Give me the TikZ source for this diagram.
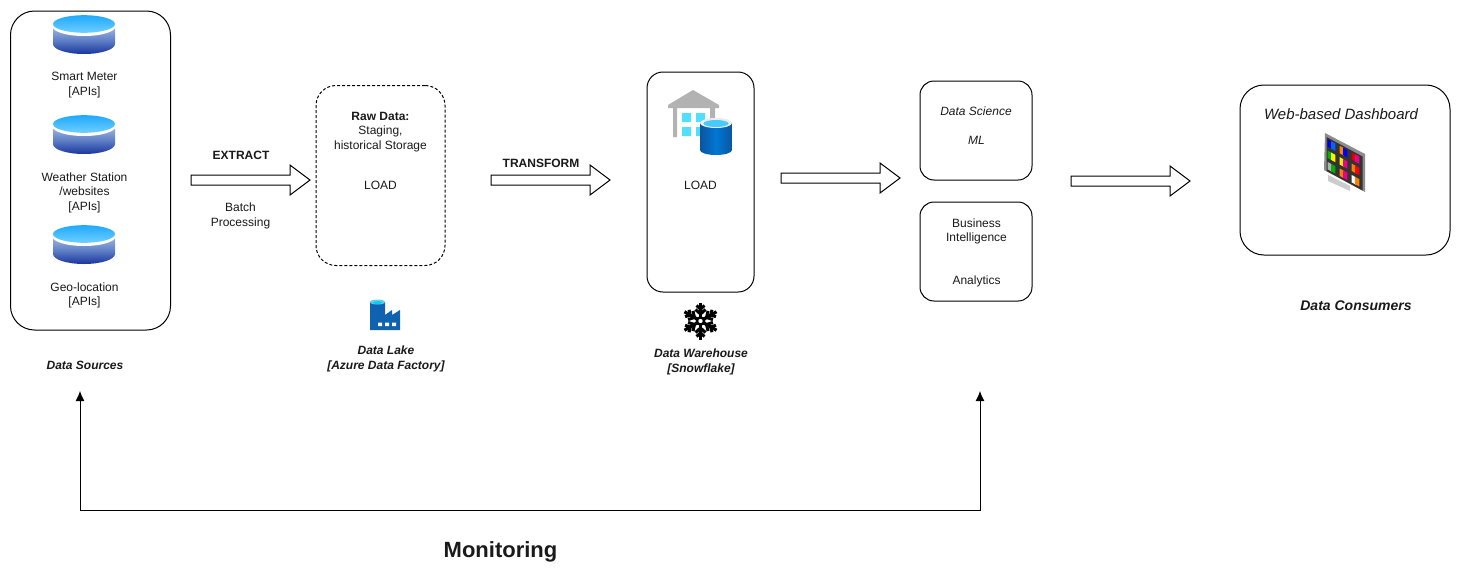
\documentclass[tikz,border=0pt]{standalone}
\usepackage{fontspec}
\setmainfont{Liberation Sans}
\usetikzlibrary{calc,arrows.meta}
\definecolor{txt}{HTML}{1A1A1A}
\definecolor{dbtop}{HTML}{1FA9FF}
\definecolor{dbbot}{HTML}{70CFFF}
\definecolor{bodytop}{HTML}{A9BCE6}
\definecolor{bodymid}{HTML}{6383C8}
\definecolor{bodybot}{HTML}{1A359E}
\definecolor{factoryblue}{HTML}{0F62B0}
\definecolor{whcyan}{HTML}{50DFFF}
\definecolor{whdark}{HTML}{0A559F}
\definecolor{whmid}{HTML}{0078D4}
\tikzset{
  x=1pt,y=-1pt,
  box/.style={draw=black,line width=1pt,rounded corners=#1,fill=white,inner sep=0pt},
  box/.default=20pt,
  lbl/.style={font=\fontsize{12}{14.4}\selectfont,text=txt,align=center,inner sep=0pt},
  lblbi/.style={lbl,font=\fontsize{12}{14.4}\selectfont\bfseries\itshape},
  lblb/.style={lbl,font=\fontsize{12}{14.4}\selectfont\bfseries},
  lbli/.style={lbl,font=\fontsize{12}{14.4}\selectfont\itshape},
  blockarrow/.style={draw=black,line width=1pt,fill=white,line join=miter},
  monitor/.style={draw=black,line width=1pt,-{Latex[length=10pt,width=9pt]},rounded corners=0pt},
}
\newcommand{\dbcyl}[2]{%
  \begin{scope}[shift={(#1,#2)}]
    \path[top color=bodytop,bottom color=bodybot,middle color=bodymid]
      (53,25) -- (53,44) arc[x radius=31,y radius=10,start angle=180,end angle=0] -- (115,25) -- cycle;
    \path[fill=white] (84,26.5) ellipse[x radius=31.5,y radius=9.5];
    \path[top color=dbtop,bottom color=dbbot] (84,24) ellipse[x radius=31,y radius=8.8];
  \end{scope}}
\newcommand{\blockarr}[2]{%
  \draw[blockarrow] ($(#1)+(0,-5)$) -- ($(#2)+(-20,-5)$) -- ($(#2)+(-20,-15)$) -- (#2)
     -- ($(#2)+(-20,15)$) -- ($(#2)+(-20,5)$) -- ($(#1)+(0,5)$) -- cycle;}
% tile patches on the monitor screen
\newcommand{\mpt}[2]{({1326.5+36*(#1)},{137+19.5*(#1)+34*(#2)})}
\newcommand{\patch}[4]{% col,row,colour,offset
  \fill[#3] \mpt{(#1+0.1+#4*0.28)/3}{(#2+0.15)/3} -- \mpt{(#1+0.45+#4*0.28)/3}{(#2+0.15)/3}
     -- \mpt{(#1+0.45+#4*0.28)/3}{(#2+0.8)/3} -- \mpt{(#1+0.1+#4*0.28)/3}{(#2+0.8)/3} -- cycle;}
\begin{document}
\begin{tikzpicture}
\useasboundingbox (0,0) rectangle (1461,581);
\fill[white] (0,0) rectangle (1461,581);

% containers
\node[box=24pt,minimum width=160pt,minimum height=319pt] (sources) at (90.5,170.5) {};
\node[box=20pt,minimum width=129pt,minimum height=180pt,dash pattern=on 3pt off 2pt] (lake) at (380.5,175.5) {};
\node[box=16pt,minimum width=107pt,minimum height=220pt] (dwh) at (700.5,182) {};
\node[box=14pt,minimum width=112pt,minimum height=99pt] (ds) at (976,130.5) {};
\node[box=14pt,minimum width=112pt,minimum height=99pt] (bi) at (976,251.5) {};
\node[box=24pt,minimum width=210pt,minimum height=170pt] (dash) at (1345,170) {};

% cylinders
\dbcyl{0}{0}
\dbcyl{0}{100}
\dbcyl{0}{210}

% source labels
\node[lbl] (smart) at (84.5,85) {Smart Meter\\{}[APIs]};
\node[lbl] (weather) at (84.5,192.5) {Weather Station\\/websites\\{}[APIs]};
\node[lbl] (geo) at (84.5,295.5) {Geo-location\\{}[APIs]};
\node[lblbi] (srclbl) at (85,365) {Data Sources};

% extract
\node[lblb] (extract) at (241,155) {EXTRACT};
\node[lbl] (batch) at (240.5,216) {Batch\\Processing};
\coordinate (a1s) at (191,180); \coordinate (a1e) at (310,180);
\blockarr{a1s}{a1e}

% lake
\node[lbl] (raw) at (380.5,132) {\textbf{Raw Data:}\\Staging,\\historical Storage};
\node[lbl] (load1) at (380.5,185) {LOAD};
\node[lblbi] (lakelbl) at (386,359) {Data Lake\\{}[Azure Data Factory]};

% transform
\node[lblb] (transform) at (541,163) {TRANSFORM};
\coordinate (a2s) at (491,180); \coordinate (a2e) at (610,180);
\blockarr{a2s}{a2e}

% factory icon
\fill[factoryblue] (370,302) -- (370,330) -- (400,330) -- (400,310) -- (392,315) -- (392,310) -- (385,315) -- (385,302) -- cycle;
\fill[cyan!60!white] (377.5,302) ellipse[x radius=7.5,y radius=2.5];
\fill[factoryblue!30!cyan] (377.5,302.6) ellipse[x radius=5,y radius=1.4];
\fill[white] (378,322.5) rectangle (382,326) (385,322.5) rectangle (389,326) (392,322.5) rectangle (396,326);

% warehouse icon
\fill[black!30] (693,90) -- (719,105) -- (719,108) -- (715,108) -- (715,121) -- (710,121) -- (710,108)
   -- (677,108) -- (677,137) -- (673,137) -- (673,108) -- (668,108) -- (668,105) -- cycle;
\fill[whcyan] (682,113) rectangle (691,122) (696,113) rectangle (705,122) (682,127) rectangle (691,136) (696,127) rectangle (705,136);
\path[left color=whdark,right color=whdark,middle color=whmid]
  (700,123) -- (700,150) arc[x radius=16,y radius=5,start angle=180,end angle=0] -- (732,123) -- cycle;
\fill[black!8] (716,123) ellipse[x radius=16,y radius=5];
\fill[whcyan!90!blue] (716,123.5) ellipse[x radius=12.5,y radius=3.5];

\node[lbl] (load2) at (700.5,185) {LOAD};
% snowflake
\begin{scope}[shift={(700.5,321)}]
  \foreach \a in {30,90,150,210,270,330}{
    \begin{scope}[rotate=\a]
      \draw[black,line width=3.2pt] (3,0) -- (18.5,0);
      \draw[black,line width=3pt] (7,0) -- (11.5,-5) (7,0) -- (11.5,5) (12,0) -- (15.5,-4) (12,0) -- (15.5,4);
    \end{scope}}
  \draw[black,line width=2.4pt,fill=white] (0,0) circle[radius=3.6];
\end{scope}
\node[lblbi] (dwhlbl) at (701,362) {Data Warehouse\\{}[Snowflake]};

% analytics
\node[lbli] (dslbl) at (976,111) {Data Science};
\node[lbli] (ml) at (976.5,140) {ML};
\node[lbl] (bilbl) at (976.5,231.5) {Business\\Intelligence};
\node[lbl] (anl) at (976.5,281) {Analytics};
\coordinate (a3s) at (781,178); \coordinate (a3e) at (900,178);
\blockarr{a3s}{a3e}
\coordinate (a4s) at (1071,181); \coordinate (a4e) at (1190,181);
\blockarr{a4s}{a4e}

% dashboard
\node[lbl,font=\fontsize{15}{17}\selectfont\itshape] (dashlbl) at (1341,114) {Web-based Dashboard};
\node[lbl,font=\fontsize{14}{17}\selectfont\bfseries\itshape] (conslbl) at (1356,305.5) {Data Consumers};
% monitor
\fill[black!20] (1328,175) -- (1350,186) -- (1350,191) -- (1328,181) -- cycle;
\fill[black!45] (1325,133) -- (1365,154) -- (1365,192) -- (1324,170) -- cycle;
\fill[black!80] \mpt{0}{0} -- \mpt{1}{0} -- \mpt{1}{1} -- \mpt{0}{1} -- cycle;
\foreach \c/\r/\ca/\cb in {0/0/blue!80!black/blue!60!cyan,1/0/orange/blue,2/0/red!85!black/magenta,
  0/1/green!70!black/yellow,1/1/yellow/magenta,2/1/orange/red,
  0/2/black!30/green!70!black,1/2/orange/magenta,2/2/white/orange}{
  \patch{\c}{\r}{\ca}{0}
  \patch{\c}{\r}{\cb}{1}
}

% monitoring
\coordinate (mona) at (80,391);
\coordinate (monb) at (980,391);
\coordinate (monc) at (80,510.5);
\coordinate (mond) at (980,510.5);
\draw[monitor] (monc) -- (mona);
\draw[monitor] (monc) -- (mond) -- (monb);
\node[lbl,font=\fontsize{22}{26}\selectfont\bfseries] (mon) at (500.5,551.5) {Monitoring};
\end{tikzpicture}
\end{document}
